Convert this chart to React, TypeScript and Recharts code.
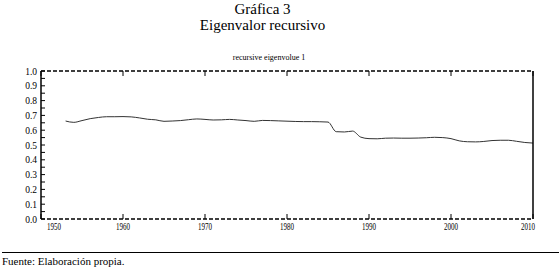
import { LineChart, Line, XAxis, YAxis } from "recharts";

// recursive eigenvalue
const years = [
  1953, 1954, 1955, 1956, 1957, 1958, 1959, 1960, 1961, 1962, 1963, 1964,
  1965, 1966, 1967, 1968, 1969, 1970, 1971, 1972, 1973, 1974, 1975, 1976,
  1977, 1978, 1979, 1980, 1981, 1982, 1983, 1984, 1985, 1986, 1987, 1988,
  1989, 1990, 1991, 1992, 1993, 1994, 1995, 1996, 1997, 1998, 1999, 2000,
  2001, 2002, 2003, 2004, 2005, 2006, 2007, 2008, 2009, 2010,
];
const eigenvalues = [
  0.662, 0.653, 0.665, 0.678, 0.686, 0.691, 0.691, 0.692, 0.69, 0.683, 0.674,
  0.67, 0.66, 0.662, 0.665, 0.671, 0.676, 0.673, 0.669, 0.67, 0.673, 0.669,
  0.665, 0.66, 0.666, 0.665, 0.663, 0.661, 0.659, 0.658, 0.658, 0.657, 0.655,
  0.59, 0.588, 0.594, 0.553, 0.543, 0.542, 0.546, 0.547, 0.546, 0.546, 0.547,
  0.549, 0.552, 0.55, 0.543, 0.528, 0.522, 0.521, 0.524, 0.53, 0.532, 0.532,
  0.525, 0.517, 0.513,
];
const xTicks = [1950, 1960, 1970, 1980, 1990, 2000, 2010];
const yTicks = [
  0, 0.05, 0.1, 0.15, 0.2, 0.25, 0.3, 0.35, 0.4, 0.45, 0.5, 0.55, 0.6, 0.65,
  0.7, 0.75, 0.8, 0.85, 0.9, 0.95, 1.0,
];

const data = years.map((year, i) => ({ year, value: eigenvalues[i] }));

const serif = '"Liberation Serif", "DejaVu Serif", serif';

function LeftTick(props: any) {
  const { x, y, payload } = props;
  const major = Math.round(payload.value * 100) % 10 === 0;
  const ax = x + 4;
  return (
    <g>
      <line x1={ax} x2={ax + 4} y1={y} y2={y} stroke="#000" />
      {major && (
        <text
          x={x}
          y={y + 3.5}
          textAnchor="end"
          style={{ fontFamily: serif }}
          fontSize={9.5}
          fill="#000"
        >
          {payload.value.toFixed(1)}
        </text>
      )}
    </g>
  );
}

function RightTick(props: any) {
  const { x, y } = props;
  return <line x1={x} x2={x - 4} y1={y} y2={y} stroke="#000" />;
}

function BottomTick(props: any) {
  const { x, y, payload, index } = props;
  let tx = x;
  let anchor = "middle";
  if (index === 0) {
    tx = x + 6;
    anchor = "start";
  } else if (index === xTicks.length - 1) {
    tx = x + 2;
    anchor = "end";
  }
  return (
    <g>
      <line x1={x} x2={x} y1={y} y2={y - 5} stroke="#000" />
      <text
        x={tx}
        y={y + 10.5}
        textAnchor={anchor}
        style={{ fontFamily: serif }}
        fontSize={10}
        textLength={14}
        lengthAdjust="spacingAndGlyphs"
        fill="#000"
      >
        {payload.value}
      </text>
    </g>
  );
}

function TopTick(props: any) {
  const { x, y } = props;
  return <line x1={x} x2={x} y1={y} y2={y + 5} stroke="#000" />;
}

export default function App() {
  return (
    <div
      style={{
        position: "absolute",
        left: 0,
        top: 0,
        width: 559,
        height: 276,
        background: "#fff",
        fontFamily: serif,
        color: "#000",
      }}
    >
      <div
        style={{
          position: "absolute",
          left: 0,
          width: 525,
          top: 2,
          fontSize: 15,
          lineHeight: "15px",
          textAlign: "center",
        }}
      >
        Gráfica 3
      </div>
      <div
        style={{
          position: "absolute",
          left: 0,
          width: 525,
          top: 18,
          fontSize: 15,
          lineHeight: "15px",
          textAlign: "center",
        }}
      >
        Eigenvalor recursivo
      </div>
      <div
        style={{
          position: "absolute",
          left: 0,
          width: 538,
          top: 54,
          fontSize: 8,
          lineHeight: "8px",
          textAlign: "center",
        }}
      >
        recursive eigenvolue 1
      </div>
      <div style={{ position: "absolute", left: 0, top: 0 }}>
        <LineChart
          width={559}
          height={276}
          data={data}
          margin={{ top: 0, right: 0, bottom: 0, left: 0 }}
        >
          <XAxis
            dataKey="year"
            type="number"
            domain={[1950, 2010]}
            ticks={xTicks}
            height={57}
            tickSize={0}
            tickMargin={0}
            tickLine={false}
            axisLine={{ stroke: "#000", strokeWidth: 1.5, strokeDasharray: "4 2" }}
            tick={<BottomTick />}
            interval={0}
            allowDataOverflow
          />
          <XAxis
            xAxisId="top"
            orientation="top"
            dataKey="year"
            type="number"
            domain={[1950, 2010]}
            ticks={xTicks}
            height={71}
            tickSize={0}
            tickMargin={0}
            tickLine={false}
            axisLine={{ stroke: "#000", strokeWidth: 1.5, strokeDasharray: "4 2" }}
            tick={<TopTick />}
            interval={0}
          />
          <YAxis
            yAxisId="left"
            type="number"
            domain={[0, 1]}
            ticks={yTicks}
            width={41}
            tickSize={0}
            tickMargin={4}
            tickLine={false}
            axisLine={{ stroke: "#000", strokeWidth: 1.5 }}
            tick={<LeftTick />}
            interval={0}
          />
          <YAxis
            yAxisId="right"
            orientation="right"
            type="number"
            domain={[0, 1]}
            ticks={yTicks}
            width={26}
            tickSize={0}
            tickMargin={0}
            tickLine={false}
            axisLine={{ stroke: "#000", strokeWidth: 1.5 }}
            tick={<RightTick />}
            interval={0}
          />
          <Line
            yAxisId="left"
            type="monotone"
            dataKey="value"
            stroke="#333"
            strokeWidth={1}
            dot={false}
            activeDot={false}
            isAnimationActive={false}
          />
        </LineChart>
      </div>
      <div
        style={{
          position: "absolute",
          left: 2,
          right: 0,
          top: 252,
          borderTop: "1px solid #000",
        }}
      />
      <div
        style={{
          position: "absolute",
          left: 2,
          top: 256,
          fontSize: 11,
          lineHeight: "11px",
          whiteSpace: "nowrap",
        }}
      >
        Fuente: Elaboración propia.
      </div>
    </div>
  );
}
